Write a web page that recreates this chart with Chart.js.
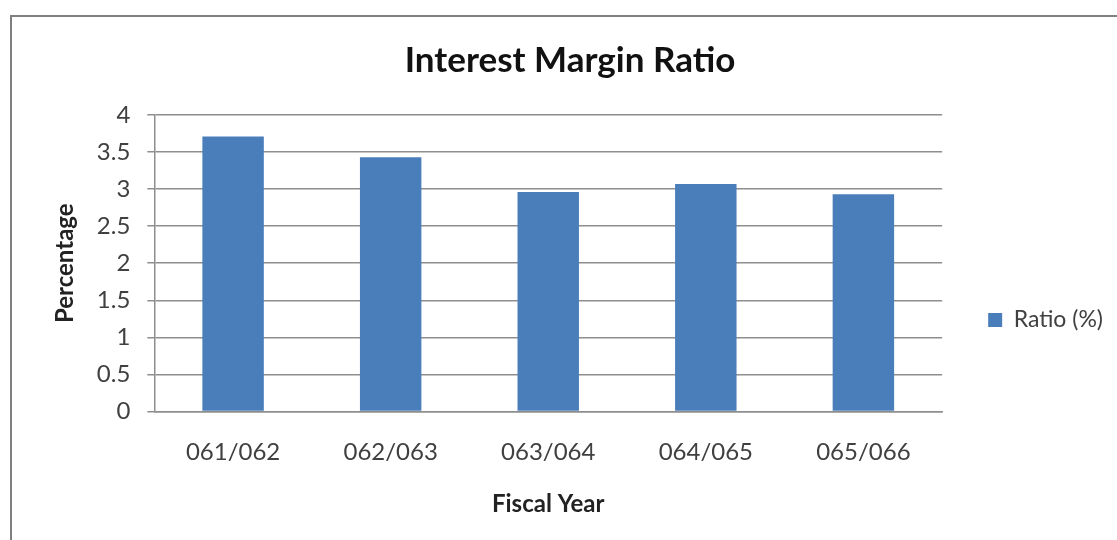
<!DOCTYPE html>
<html>
<head>
<meta charset="utf-8">
<script src="https://cdn.jsdelivr.net/npm/chart.js@4"></script>
<style>
  html, body { margin: 0; padding: 0; background: #fff; overflow: hidden; width: 1117px; height: 540px; }
  #frame {
    position: absolute; left: 10px; top: 15px;
    width: 1120px; height: 610px;
    border-left: 2px solid #808080; border-top: 2px solid #808080;
    background: #fff;
  }
</style>
</head>
<body>
<div id="frame"><canvas id="imrChart" width="1120" height="610"></canvas></div>
<script>
var fiscalYears = ["061/062", "062/063", "063/064", "064/065", "065/066"];
var ratioValues = [3.71, 3.43, 2.96, 3.07, 2.93];
var yTicks = [0, 0.5, 1, 1.5, 2, 2.5, 3, 3.5, 4];

var fontName = "Lato, 'Open Sans', sans-serif";
var gridGray = "#8e8e8e";

var ctx = document.getElementById("imrChart").getContext("2d");
var myChart = new Chart(ctx, {
  type: "bar",
  data: {
    labels: fiscalYears,
    datasets: [{
      label: "Ratio (%)",
      data: ratioValues,
      backgroundColor: "#4a7ebb",
      borderWidth: 0,
      categoryPercentage: 1,
      barPercentage: 0.39
    }]
  },
  options: {
    responsive: false,
    animation: false,
    layout: { padding: { left: 15, right: 19, top: 8, bottom: 12 } },
    plugins: {
      title: {
        display: true,
        text: "Interest Margin Ratio",
        color: "#111",
        font: { family: fontName, size: 35, weight: "bold" },
        padding: { top: 15, bottom: 33 }
      },
      legend: {
        position: "right",
        labels: {
          color: "#404040",
          font: { family: fontName, size: 23 },
          boxWidth: 14,
          boxHeight: 14,
          padding: 46
        }
      },
      tooltip: { enabled: false }
    },
    scales: {
      x: {
        grid: { display: false },
        border: { display: true, color: gridGray, width: 1.5 },
        ticks: { color: "#404040", font: { family: fontName, size: 24 }, padding: 18 },
        title: {
          display: true,
          text: "Fiscal Year",
          color: "#222",
          font: { family: fontName, size: 24, weight: "bold" },
          padding: { top: 6, bottom: 96 }
        }
      },
      y: {
        min: 0,
        max: 4,
        afterBuildTicks: function (axis) {
          axis.ticks = yTicks.map(function (v) { return { value: v }; });
        },
        grid: { color: gridGray, lineWidth: 1.5, tickLength: 7 },
        border: { display: true, color: gridGray, width: 1.5 },
        ticks: {
          color: "#404040",
          font: { family: fontName, size: 24 },
          padding: 17,
          callback: function (value) { return String(value); }
        },
        title: {
          display: true,
          text: "Percentage",
          color: "#222",
          font: { family: fontName, size: 24, weight: "bold" },
          padding: { top: 24, bottom: 0 }
        }
      }
    }
  }
});
</script>
</body>
</html>
